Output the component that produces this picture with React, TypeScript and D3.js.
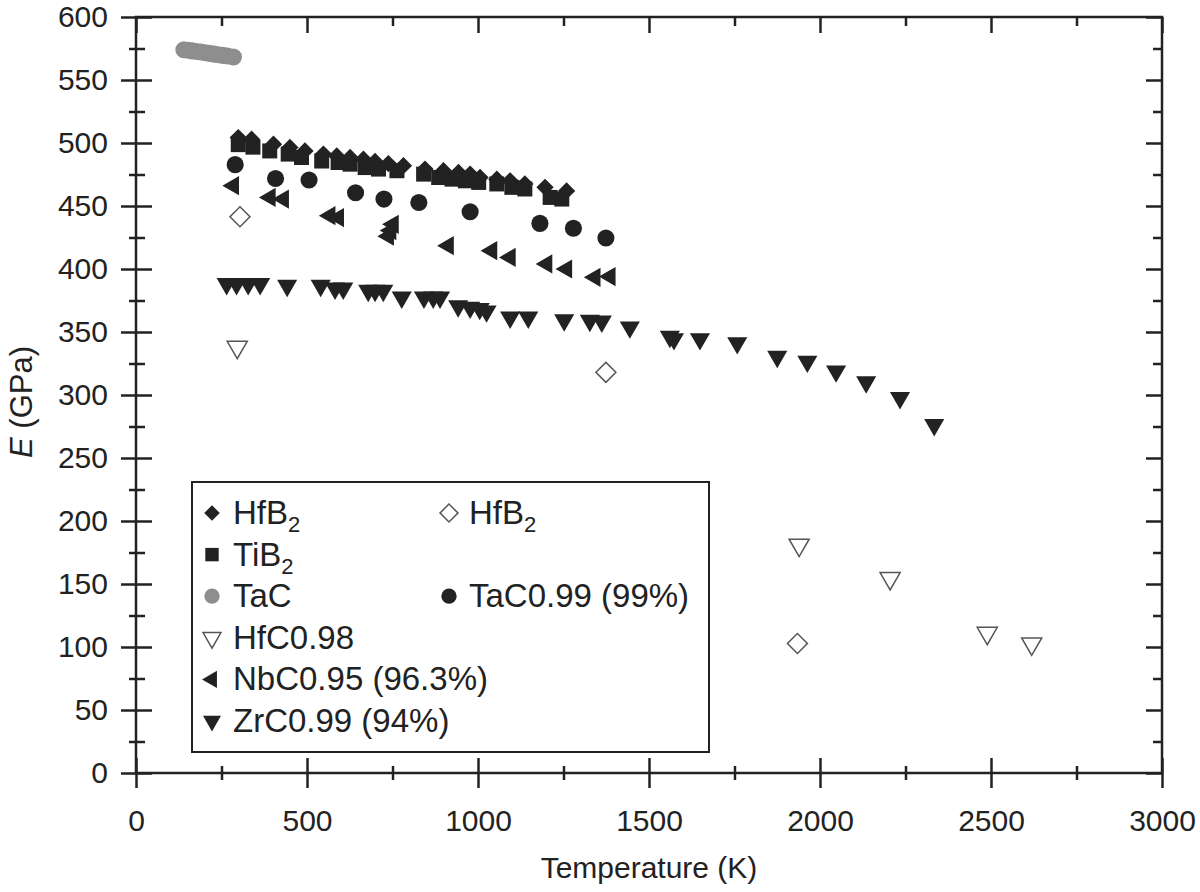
import React, { useEffect, useRef } from 'react'
import * as d3 from 'd3'

// data: [temperature K, E GPa]
const hfb2 = [
  [299, 504.3], [338, 503], [402, 499], [450, 496.5], [494, 493.7], [548, 491.2],
  [587, 489.7], [626, 488.5], [665, 487.2], [699, 485.3], [738, 483.7], [782, 482],
  [845, 479.3], [899, 478], [943, 476.6], [977, 475.3], [1006, 472.6], [1055, 471.3],
  [1094, 470], [1137, 467.5], [1196, 464.8], [1259, 462]
]
const tib2 = [
  [299, 498.7], [342, 496.7], [391, 493.7], [445, 491.2], [484, 488.5], [543, 485.7],
  [591, 484.5], [626, 483.2], [670, 480.5], [709, 479.3], [763, 478], [841, 475.3],
  [885, 472.6], [924, 471.3], [963, 470], [1002, 468.7], [1055, 467.5], [1099, 464.8],
  [1137, 463.5], [1211, 456.8], [1245, 455.5]
]
const tac = [
  [140, 574], [152, 573.6], [165, 573.1], [178, 572.6], [190, 572.2], [203, 571.6],
  [216, 571.1], [229, 570.5], [242, 570], [255, 569.5], [268, 569], [285, 568.2]
]
const tac099 = [
  [290, 482.8], [408, 471.8], [506, 470.6], [642, 460.5], [725, 455.5], [827, 452.8],
  [977, 445.4], [1181, 436.2], [1279, 432.3], [1374, 424.6]
]
const nbc = [
  [285, 466.1], [392, 456.8], [431, 455.5], [567, 442.3], [592, 440.8], [752, 435.5],
  [745, 430.5], [738, 426], [913, 418.5], [1040, 414.5], [1094, 409.2], [1201, 404],
  [1259, 400], [1342, 393.4], [1386, 394]
]
const zrc = [
  [265, 388.2], [294, 388.2], [328, 388.2], [363, 388.2], [442, 386.8], [540, 386.8],
  [582, 384.7], [606, 384.7], [679, 382.9], [699, 382.9], [723, 382.9], [777, 377.5],
  [842, 377.5], [869, 377.5], [889, 377.5], [942, 370.5], [977, 369.5], [1005, 368.5],
  [1025, 366.5], [1094, 361.6], [1147, 361.6], [1252, 359.5], [1327, 359], [1362, 358.5],
  [1444, 353.8], [1561, 346.4], [1573, 344.5], [1649, 344.5], [1758, 341.3], [1875, 330.5],
  [1963, 326.6], [2047, 318.9], [2135, 310.2], [2234, 297.8], [2334, 276.3]
]
const hfb2Open = [[304, 441.5], [1374, 318], [1934, 102.8]]
const hfcOpen = [[296, 338], [1939, 181], [2205, 154.5], [2489, 111], [2619, 102.6]]

const xMajor = [0, 500, 1000, 1500, 2000, 2500, 3000]
const xMinor = [250, 750, 1250, 1750, 2250, 2750]
const yMajor = [0, 50, 100, 150, 200, 250, 300, 350, 400, 450, 500, 550, 600]
const yMinor = [25, 75, 125, 175, 225, 275, 325, 375, 425, 475, 525, 575]

// legend labels: [main text, subscript]
const legendLeft = [['HfB', '2'], ['TiB', '2'], ['TaC', ''], ['HfC0.98', ''], ['NbC0.95 (96.3%)', ''], ['ZrC0.99 (94%)', '']]
const legendRight = [['HfB', '2'], null, ['TaC0.99 (99%)', ''], null, null, null]

const INK = '#222'
const FONT = '"Liberation Sans", Arial, Helvetica, sans-serif'

// marker styles
const styles = {
  diamond: { type: d3.symbolSquare, size: 150, rot: 45, fill: INK, stroke: 'none' },
  square: { type: d3.symbolSquare, size: 225, rot: 0, fill: INK, stroke: 'none' },
  gray: { type: d3.symbolCircle, size: 230, rot: 0, fill: '#8e8e8e', stroke: 'none' },
  circle: { type: d3.symbolCircle, size: 230, rot: 0, fill: INK, stroke: 'none' },
  left: { type: d3.symbolTriangle, size: 160, rot: -90, fill: INK, stroke: 'none' },
  down: { type: d3.symbolTriangle, size: 175, rot: 180, fill: INK, stroke: 'none' },
  openDiamond: { type: d3.symbolSquare, size: 200, rot: 45, fill: 'white', stroke: '#555' },
  openDown: { type: d3.symbolTriangle, size: 175, rot: 180, fill: 'white', stroke: '#555' }
}

export default function App() {
  const ref = useRef(null)

  useEffect(() => {
    const svg = d3.select(ref.current)
    svg.selectAll('*').remove()

    const left = 136, right = 1162, top = 17, bottom = 773
    const x = d3.scaleLinear().domain([0, 3000]).range([left, right])
    const y = d3.scaleLinear().domain([0, 600]).range([bottom, top])

    const styleAxis = g => {
      g.select('.domain').remove()
      g.selectAll('line').attr('stroke', INK).attr('stroke-width', 2.5)
      g.selectAll('text').attr('fill', INK).style('font-family', FONT).style('font-size', '30px')
    }

    // bottom: labels + outward ticks, then inward ticks
    svg.append('g').attr('transform', `translate(0,${bottom})`)
      .call(d3.axisBottom(x).tickValues(xMajor).tickSize(15).tickPadding(22).tickFormat(d3.format('d')))
      .call(styleAxis)
    svg.append('g').attr('transform', `translate(0,${bottom})`)
      .call(d3.axisTop(x).tickValues(xMajor).tickSize(15).tickFormat(''))
      .call(styleAxis)
    svg.append('g').attr('transform', `translate(0,${bottom})`)
      .call(d3.axisBottom(x).tickValues(xMinor).tickSize(7).tickFormat(''))
      .call(styleAxis)
    svg.append('g').attr('transform', `translate(0,${bottom})`)
      .call(d3.axisTop(x).tickValues(xMinor).tickSize(7).tickFormat(''))
      .call(styleAxis)
    // top: inward only
    svg.append('g').attr('transform', `translate(0,${top})`)
      .call(d3.axisBottom(x).tickValues(xMajor).tickSize(16).tickFormat(''))
      .call(styleAxis)
    svg.append('g').attr('transform', `translate(0,${top})`)
      .call(d3.axisBottom(x).tickValues(xMinor).tickSize(9).tickFormat(''))
      .call(styleAxis)

    // left: labels + outward, inward
    svg.append('g').attr('transform', `translate(${left},0)`)
      .call(d3.axisLeft(y).tickValues(yMajor).tickSize(15).tickPadding(13))
      .call(styleAxis)
    svg.append('g').attr('transform', `translate(${left},0)`)
      .call(d3.axisRight(y).tickValues(yMajor).tickSize(16).tickFormat(''))
      .call(styleAxis)
    svg.append('g').attr('transform', `translate(${left},0)`)
      .call(d3.axisLeft(y).tickValues(yMinor).tickSize(7).tickFormat(''))
      .call(styleAxis)
    svg.append('g').attr('transform', `translate(${left},0)`)
      .call(d3.axisRight(y).tickValues(yMinor).tickSize(9).tickFormat(''))
      .call(styleAxis)
    // right: inward only
    svg.append('g').attr('transform', `translate(${right},0)`)
      .call(d3.axisLeft(y).tickValues(yMajor).tickSize(16).tickFormat(''))
      .call(styleAxis)
    svg.append('g').attr('transform', `translate(${right},0)`)
      .call(d3.axisLeft(y).tickValues(yMinor).tickSize(9).tickFormat(''))
      .call(styleAxis)

    // frame
    svg.append('rect')
      .attr('x', left).attr('y', top)
      .attr('width', right - left).attr('height', bottom - top)
      .attr('fill', 'none').attr('stroke', INK).attr('stroke-width', 2.5)

    // axis titles
    svg.append('text')
      .attr('x', (left + right) / 2).attr('y', 878)
      .attr('text-anchor', 'middle')
      .style('font-family', FONT).style('font-size', '30px').attr('fill', INK)
      .text('Temperature (K)')
    const yt = svg.append('text')
      .attr('transform', 'translate(32,402) rotate(-90)')
      .attr('text-anchor', 'middle')
      .style('font-family', FONT).style('font-size', '31px').attr('fill', INK)
    yt.append('tspan').style('font-style', 'italic').text('E')
    yt.append('tspan').text(' (GPa)')

    const draw = (data, st, sizeScale = 1) => {
      svg.append('g').selectAll('path')
        .data(data)
        .enter()
        .append('path')
        .attr('d', d3.symbol().type(st.type).size(st.size * sizeScale))
        .attr('transform', d => `translate(${x(d[0])},${y(d[1])}) rotate(${st.rot})`)
        .attr('fill', st.fill)
        .attr('stroke', st.stroke)
        .attr('stroke-width', 1.5)
    }

    draw(tac, styles.gray)
    draw(hfb2Open, styles.openDiamond)
    draw(hfcOpen, styles.openDown)
    draw(zrc, styles.down)
    draw(nbc, styles.left)
    draw(tac099, styles.circle)
    draw(tib2, styles.square)
    draw(hfb2, styles.diamond)

    // legend
    svg.append('rect')
      .attr('x', 192).attr('y', 482).attr('width', 517).attr('height', 270)
      .attr('fill', 'white').attr('stroke', INK).attr('stroke-width', 2)

    const leftStyles = [styles.diamond, styles.square, styles.gray, styles.openDown, styles.left, styles.down]
    const rightStyles = [styles.openDiamond, null, styles.circle, null, null, null]
    const rowY = i => 524 + i * 41.6

    const item = (label, st, sx, tx, i) => {
      if (!label) return
      svg.append('path')
        .attr('d', d3.symbol().type(st.type).size(st.size * 0.8))
        .attr('transform', `translate(${sx},${rowY(i) - 11}) rotate(${st.rot})`)
        .attr('fill', st.fill).attr('stroke', st.stroke).attr('stroke-width', 1.5)
      const t = svg.append('text')
        .attr('x', tx).attr('y', rowY(i))
        .style('font-family', FONT).style('font-size', '33px').attr('fill', INK)
      t.append('tspan').text(label[0])
      if (label[1]) {
        t.append('tspan').attr('dy', 8).style('font-size', '22px').text(label[1])
      }
    }
    legendLeft.forEach((l, i) => item(l, leftStyles[i], 212, 233, i))
    legendRight.forEach((l, i) => item(l, rightStyles[i], 449, 469, i))
  }, [])

  return (
    <svg
      ref={ref}
      width={1200}
      height={892}
      style={{ position: 'absolute', left: 0, top: 0, background: 'white' }}
    />
  )
}
